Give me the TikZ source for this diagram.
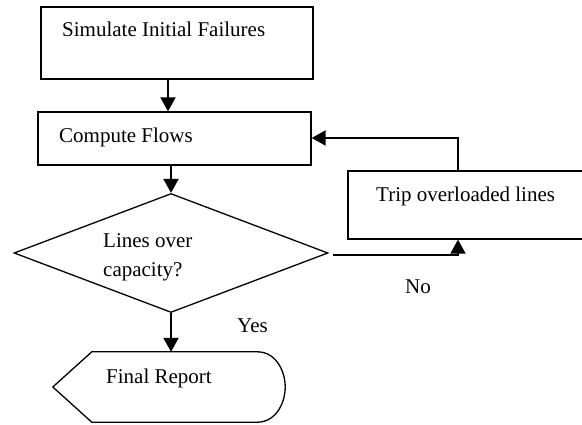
\documentclass[tikz,border=0pt]{standalone}
\usepackage{fontspec}
\setmainfont{Liberation Serif}
\usetikzlibrary{shapes.geometric,arrows.meta}
\begin{document}
\begin{tikzpicture}[x=1pt,y=-1pt,
  boxst/.style={draw,line width=1.3pt,inner sep=0pt,minimum width=#1},
  lbl/.style={anchor=base west,inner sep=0pt,font=\fontsize{21}{25}\selectfont},
  arr/.style={line width=2pt,-{Triangle[length=14pt,width=15pt]}},
  conn/.style={line width=2pt}]
\clip (0,0) rectangle (582,425);
\fill[white] (0,0) rectangle (582,425);
% boxes
\node[boxst=272pt,minimum height=72pt] (box1) at (177,43) {};
\node[boxst=273pt,minimum height=53pt] (box2) at (174.5,138.5) {};
\node[draw,line width=1.3pt,shape=diamond,aspect=2.64,inner sep=0pt,
      minimum width=314pt,minimum height=119pt] (dia) at (171,253) {};
\node[boxst=252pt,minimum height=68pt] (trip) at (474,205) {};
\node[inner sep=0pt,minimum width=232pt,minimum height=70pt] (rep) at (169,387) {};
\draw[line width=1.3pt] (rep.west) -- ([xshift=39pt]rep.north west) -- ([xshift=-28pt]rep.north east)
  .. controls ([xshift=-10pt]rep.north east) and ([yshift=17pt]rep.east) .. (rep.east)
  .. controls ([yshift=-17pt]rep.east) and ([xshift=-10pt]rep.south east) .. ([xshift=-28pt]rep.south east)
  -- ([xshift=39pt]rep.south west) -- cycle;
% texts
\node[lbl] (t1) at (62,37) {Simulate Initial Failures};
\node[lbl] (t2) at (59,143) {Compute Flows};
\node[lbl] (t3) at (376,202) {Trip overloaded lines};
\node[lbl] (t4) at (103,248) {Lines over};
\node[lbl] (t5) at (103,277) {capacity?};
\node[lbl] (t6) at (237,333) {Yes};
\node[lbl] (t7) at (405,294) {No};
\node[lbl] (t8) at (106,383) {Final Report};
% connectors
\coordinate (fb) at (458,138);
\coordinate (nb) at (458,255);
\draw[arr] ([xshift=-3pt]box1.south -| dia.north) -- ([xshift=-3pt]box2.north -| dia.north);
\draw[arr] (box2.south -| dia.north) -- (dia.north);
\draw[arr] (dia.south) -- (dia.south |- rep.north);
\draw[arr] (trip.north -| fb) -- (fb) -- (box2.east |- fb);
\draw[arr] ([xshift=4pt]dia.east |- nb) -- (nb) -- (trip.south -| nb);
\end{tikzpicture}
\end{document}
